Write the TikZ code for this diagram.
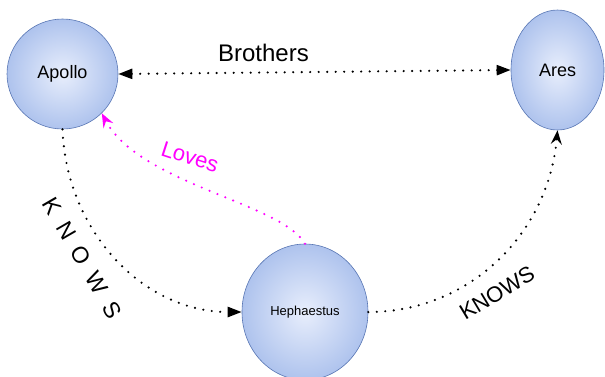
\documentclass[tikz,border=0pt]{standalone}
\usepackage{fontspec}
\setmainfont{Liberation Sans}
\usetikzlibrary{shapes.geometric,arrows.meta}
\definecolor{glowin}{RGB}{232,238,252}
\definecolor{glowout}{RGB}{130,162,226}
\definecolor{rim}{RGB}{88,118,180}
\definecolor{lovecol}{RGB}{255,0,255}
\pgfdeclareradialshading{glow}{\pgfpoint{0bp}{0bp}}{color(0bp)=(glowin); color(44bp)=(glowout); color(50bp)=(glowout)}
\begin{document}
\begin{tikzpicture}[x=1pt,y=-1pt,
  god/.style={ellipse,draw=rim,line width=0.6pt,shading=glow,inner sep=0pt},
  rel/.style={line width=2.4pt,dash pattern=on 0pt off 8.5pt,line cap=round},
  solidtip/.style={-{Triangle[length=14pt,width=10pt]}},
  hooktip/.style={-{Stealth[length=14pt,width=11pt,inset=5pt]}}]
\useasboundingbox (0,0) rectangle (605,376);
\node[god,minimum width=111,minimum height=110] (apollo) at (62.5,74) {\fontsize{18}{20}\selectfont Apollo};
\node[god,minimum width=93,minimum height=120] (ares) at (557.5,70) {\fontsize{18}{20}\selectfont Ares};
\node[god,minimum width=126,minimum height=136] (heph) at (305,312) {\fontsize{13}{15}\selectfont Hephaestus};
\draw[rel,{Triangle[length=14pt,width=10pt]}-{Triangle[length=14pt,width=10pt]}] (apollo.east) -- (ares.west)
  node[pos=0.37,anchor=base,yshift=11pt,inner sep=0pt] (brolbl) {\fontsize{24}{28}\selectfont Brothers};
\draw[rel,solidtip] (apollo.south) to[out=-88,in=180] (heph.west);
\draw[rel,hooktip] (heph.east) to[out=0,in=-95] (ares.south);
\draw[rel,hooktip,lovecol] (heph.north) to[out=120,in=-62,out looseness=0.5,in looseness=0.85] (apollo.-45);
\node[rotate=-60,inner sep=0pt] (knowsl) at (82,258) {\fontsize{23}{26}\selectfont\spaceskip=12pt\relax K N O W S};
\node[rotate=31,inner sep=0pt] (knowsr) at (497,293) {\fontsize{22}{26}\selectfont KNOWS};
\node[rotate=-18,inner sep=0pt,text=lovecol] (loveslbl) at (190,157) {\fontsize{22}{26}\selectfont Loves};
\end{tikzpicture}
\end{document}
